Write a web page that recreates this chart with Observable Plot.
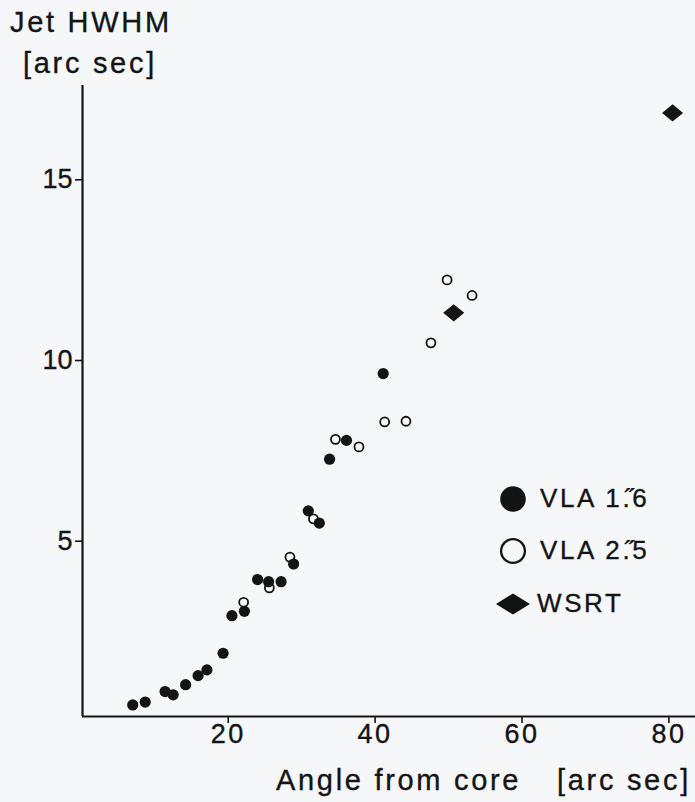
<!DOCTYPE html>
<html>
<head>
<meta charset="utf-8">
<script src="https://cdn.jsdelivr.net/npm/d3@7"></script>
<script src="https://cdn.jsdelivr.net/npm/@observablehq/plot@0.6"></script>
<style>
  html, body { margin: 0; padding: 0; background: #f6f7f9; }
  #wrap { position: relative; width: 695px; height: 802px; overflow: hidden;
          font-family: "Liberation Sans", Arial, Helvetica, sans-serif; color: #141414; }
  #wrap svg.chart { position: absolute; left: 0; top: 0; }
  .lbl { position: absolute; white-space: nowrap; font-size: 29px; letter-spacing: 2.7px; line-height: 1;
         -webkit-text-stroke: 0.35px #141414; }
  .leg { position: absolute; white-space: nowrap; font-size: 26px; letter-spacing: 2.6px; line-height: 1;
         -webkit-text-stroke: 0.35px #141414; }
  .chart g[aria-label="x-axis tick label"] text { letter-spacing: 2.5px; }
  .chart g[aria-label$="tick label"] text { stroke: #141414; stroke-width: 0.35px; }
</style>
</head>
<body>
<div id="wrap"></div>
<script>
// ---- data ----
// VLA 1".6 (filled circles): angle from core [arc sec], jet HWHM [arc sec]
const vla16Angle = [7.0, 8.7, 11.4, 12.5, 14.2, 15.9, 17.1, 19.3, 20.5, 22.2, 24.0, 25.5, 27.2, 28.9, 30.9, 32.4, 33.8, 36.1, 41.1];
const vla16Width = [0.47, 0.55, 0.84, 0.75, 1.03, 1.28, 1.44, 1.90, 2.94, 3.06, 3.94, 3.88, 3.88, 4.37, 5.84, 5.50, 7.27, 7.79, 9.64];
// VLA 2".5 (open circles)
const vla25Angle = [22.1, 25.6, 28.4, 31.6, 34.6, 37.8, 41.3, 44.2, 47.6, 49.8, 53.2];
const vla25Width = [3.31, 3.71, 4.56, 5.62, 7.82, 7.61, 8.30, 8.32, 10.49, 12.23, 11.80];
// WSRT (diamonds)
const wsrtAngle = [50.7, 80.5];
const wsrtWidth = [11.32, 16.85];

const xTicks = [20, 40, 60, 80];
const yTicks = [5, 10, 15];
const xDomain = [0.16, 83.62];
const yDomain = [0.15, 17.61];

const legendLabels = ["VLA 1.\u030B6", "VLA 2.\u030B5", "WSRT"];

const toRows = (xs, ys) => xs.map((x, i) => ({x, y: ys[i]}));
const vla16 = toRows(vla16Angle, vla16Width);
const vla25 = toRows(vla25Angle, vla25Width);
const wsrt = toRows(wsrtAngle, wsrtWidth);

// wide diamond symbol (wider than tall, as in the figure)
const wideDiamond = {
  draw(context, size) {
    const r = Math.sqrt(size / Math.PI);
    const w = r, h = r * 0.82;
    context.moveTo(-w, 0);
    context.lineTo(0, -h);
    context.lineTo(w, 0);
    context.lineTo(0, h);
    context.closePath();
  }
};

const ink = "#141414";

const chart = Plot.plot({
  width: 695,
  height: 802,
  marginLeft: 82,
  marginRight: 0,
  marginTop: 85,
  marginBottom: 86,
  x: {domain: xDomain},
  y: {domain: yDomain},
  style: {background: "transparent", fontFamily: '"Liberation Sans", Arial, Helvetica, sans-serif', color: ink, overflow: "visible"},
  marks: [
    Plot.axisX({ticks: xTicks, tickSize: 7, tickPadding: 0, fontSize: 27, label: null, strokeWidth: 1.6, tickFormat: d => String(d)}),
    Plot.axisY({ticks: yTicks, tickSize: 7, tickPadding: 3, fontSize: 27, label: null, strokeWidth: 1.6, tickFormat: d => String(d)}),
    Plot.ruleX([xDomain[0]], {stroke: ink, strokeWidth: 2.2}),
    Plot.ruleY([yDomain[0]], {stroke: ink, strokeWidth: 2.2}),
    Plot.dot(vla25, {x: "x", y: "y", r: 4.5, stroke: ink, strokeWidth: 1.8, fill: "none"}),
    Plot.dot(vla16, {x: "x", y: "y", r: 5.6, fill: ink, stroke: "none"}),
    Plot.dot(wsrt, {x: "x", y: "y", r: 10.5, symbol: wideDiamond, fill: ink, stroke: "none"})
  ]
});
chart.classList.add("chart");

const wrap = document.getElementById("wrap");
wrap.appendChild(chart);

// axis titles (text placed as HTML over the chart)
function addText(cls, text, left, top) {
  const d = document.createElement("div");
  d.className = cls;
  d.textContent = text;
  d.style.left = left + "px";
  d.style.top = top + "px";
  wrap.appendChild(d);
  return d;
}
// line-height 1 -> baseline approx 0.9em below top
addText("lbl", "Jet HWHM", 10, 34 - 0.9 * 29);
addText("lbl", "[arc sec]", 23, 75 - 0.9 * 29);
addText("lbl", "Angle from core", 276, 792 - 0.9 * 29);
addText("lbl", "[arc sec]", 557, 792 - 0.9 * 29);

// legend
const legendSyms = ["filled", "open", "diamond"];
const rowY = [499, 551, 604];
legendLabels.forEach((label, i) => {
  const cy = rowY[i];
  const sym = legendSyms[i];
  const s = document.createElementNS("http://www.w3.org/2000/svg", "svg");
  s.setAttribute("width", 40); s.setAttribute("height", 30);
  s.style.position = "absolute";
  s.style.left = (513 - 20) + "px";
  s.style.top = (cy - 15) + "px";
  let shape;
  if (sym === "filled") {
    shape = `<circle cx="20" cy="15" r="12.8" fill="${ink}"/>`;
  } else if (sym === "open") {
    shape = `<circle cx="20" cy="15" r="11.9" fill="none" stroke="${ink}" stroke-width="2.3"/>`;
  } else {
    shape = `<path d="M3,15 L20,4.5 L37,15 L20,25.5 Z" fill="${ink}"/>`;
  }
  s.innerHTML = shape;
  wrap.appendChild(s);
  const left = sym === "diamond" ? 537 : 540;
  addText("leg", label, left, cy + 9.5 - 0.9 * 26);
});
</script>
</body>
</html>
